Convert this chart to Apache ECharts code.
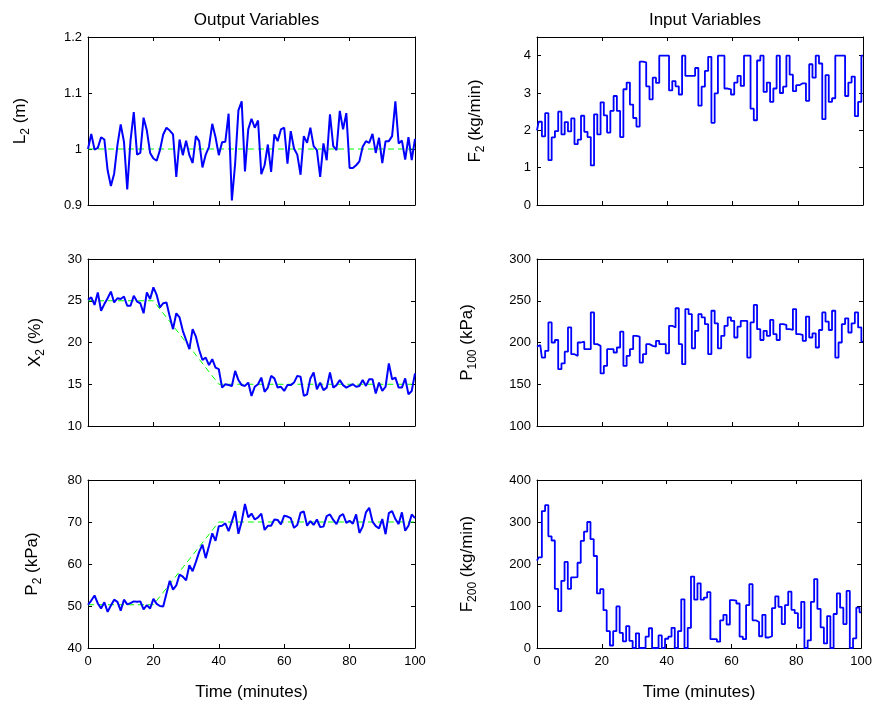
<!DOCTYPE html>
<html><head><meta charset="utf-8">
<script src="https://cdn.jsdelivr.net/npm/echarts@6/dist/echarts.min.js"></script>
<style>html,body{margin:0;padding:0;background:#fff}#c{width:875px;height:704px}</style>
</head><body><div id="c"></div>
<script>
const FONT = "'Liberation Sans', Arial, Helvetica, sans-serif";

// Output variables (one sample per minute, t = 0..100)
const L2 = [1.000,1.027,0.999,1.002,1.021,1.017,0.962,0.934,0.956,1.007,1.044,1.013,0.928,1.015,1.066,0.990,0.993,1.056,1.033,0.993,0.983,0.979,0.998,1.026,1.038,1.033,1.026,0.950,1.017,0.989,1.015,0.989,0.975,1.023,1.014,0.967,0.990,1.004,1.045,1.021,0.989,1.012,1.013,1.063,0.908,0.974,1.069,1.085,0.960,1.035,1.054,1.038,1.051,0.955,0.971,1.008,0.959,1.026,1.014,1.035,1.038,0.974,1.032,1.001,0.990,0.954,1.023,1.011,1.038,1.005,0.998,0.950,1.010,0.980,1.062,1.005,0.998,1.068,1.035,1.064,0.966,0.966,0.971,0.978,1.004,1.014,1.011,1.027,0.993,1.020,0.975,1.014,1.014,1.023,1.085,1.010,1.015,0.981,1.021,0.980,1.018];
const X2 = [25.1,25.4,24.5,26.0,23.8,24.6,25.3,26.1,24.8,25.3,25.2,25.5,24.4,24.4,25.6,24.9,24.7,23.5,26.0,25.2,26.6,25.7,24.2,24.7,24.8,23.1,21.6,23.5,23.0,21.4,20.3,19.2,21.6,20.7,19.1,17.9,18.2,17.3,18.0,17.0,16.8,14.6,15.0,14.9,14.8,16.6,15.5,14.9,14.8,15.2,13.6,14.7,15.0,15.8,14.1,14.6,16.0,15.7,14.6,14.7,14.2,14.9,14.9,15.2,16.0,15.9,13.6,13.8,15.7,16.4,14.4,15.2,14.3,14.6,16.4,14.6,14.9,15.5,14.9,14.6,14.8,15.0,14.7,14.8,15.5,14.8,15.6,15.6,13.9,15.2,14.2,14.7,17.5,15.6,15.8,14.6,14.6,15.7,13.8,14.2,16.3];
const P2 = [50.3,51.3,52.5,50.6,49.4,50.9,48.6,50.1,51.5,51.0,48.9,51.5,50.4,50.7,51.1,51.0,51.1,49.2,50.2,49.4,51.7,50.5,50.0,49.9,53.0,56.0,53.9,54.9,57.5,57.0,56.1,59.7,58.3,60.5,62.9,64.6,61.4,64.3,67.3,65.5,69.0,69.1,69.7,67.8,70.1,72.6,67.2,70.1,74.3,71.1,72.0,70.6,71.1,72.0,68.1,69.1,69.1,70.6,70.5,69.4,71.5,71.3,70.9,68.6,69.3,72.2,72.5,69.1,70.2,69.3,70.6,68.8,68.9,71.4,71.8,70.5,69.5,71.4,71.9,69.8,70.3,69.6,71.8,67.4,68.9,72.3,73.4,70.1,69.0,68.5,70.7,67.1,72.1,72.6,70.7,69.5,72.3,67.9,69.1,71.8,70.9];

// Setpoints (breakpoints)
const spTimes = [0, 20, 40, 100];
const spL2 = [1, 1, 1, 1];
const spX2 = [25, 25, 15, 15];
const spP2 = [50.3, 50.3, 70, 70];

// Input variables (held one minute each, t = 0..100)
const F2 = [2.0,2.23,1.84,2.46,1.2,1.81,1.98,2.5,1.89,2.22,1.97,2.32,1.63,1.75,2.39,1.96,1.82,1.06,2.43,1.89,2.75,2.40,1.94,2.52,2.92,2.52,1.82,3.10,3.28,2.69,2.33,2.10,3.84,3.82,3.18,2.83,3.41,3.27,4.0,4.0,4.0,3.07,3.32,3.18,2.96,4.0,3.46,3.46,3.46,3.67,2.66,3.17,3.59,3.97,2.2,2.99,4.0,4.0,3.12,3.1,2.96,3.28,3.46,3.19,4.0,4.0,2.58,2.27,3.87,4.0,3.03,3.28,2.76,3.12,4.0,3.0,3.17,4.0,3.49,3.05,3.21,3.26,3.26,2.79,3.77,3.41,4.0,3.79,2.30,3.48,2.76,2.86,4.0,4.0,4.0,2.92,3.28,3.44,2.38,2.76,4.0];
const P100 = [195,197,182,190,224,200,203,168,175,189,218,186,184,200,201,192,192,236,198,196,163,172,192,192,188,194,213,172,184,192,208,207,176,186,198,196,195,202,198,198,187,220,218,241,198,174,240,234,193,214,234,230,222,186,238,223,193,208,220,230,226,206,219,226,226,182,224,245,216,203,214,208,227,210,203,222,221,216,215,240,210,209,202,231,206,211,194,215,236,225,215,238,182,200,222,229,212,223,236,218,201];
const F200 = [208,216,326,340,266,256,141,88,160,205,141,168,169,203,255,277,300,259,219,130,140,90,40,6,40,99,36,16,52,17,0,35,0,0,27,47,0,0,30,0,22,27,48,0,40,116,0,48,170,115,154,115,120,133,21,21,15,66,79,56,114,113,106,27,21,102,152,66,62,28,79,25,28,95,123,98,57,102,134,91,83,48,110,0,18,110,164,93,49,11,76,0,81,130,96,57,136,0,23,96,85];

const xTickValues = {min: 0, max: 100, interval: 20};

const panels = [
  {grid: {left: 88, top: 37, width: 327, height: 168}, y: {min: 0.9, max: 1.2, interval: 0.1}, label: ['L', '2', ' (m)'], gap: 56, data: L2, sp: spL2, step: false, bottom: false, title: 'Output Variables'},
  {grid: {left: 88, top: 259, width: 327, height: 167}, y: {min: 10, max: 30, interval: 5}, label: ['X', '2', ' (%)'], gap: 41, data: X2, sp: spX2, step: false, bottom: false},
  {grid: {left: 88, top: 480, width: 327, height: 168}, y: {min: 40, max: 80, interval: 10}, label: ['P', '2', ' (kPa)'], gap: 44, data: P2, sp: spP2, step: false, bottom: true},
  {grid: {left: 537, top: 37, width: 326, height: 168}, y: {min: 0, max: 4.5, interval: 1}, label: ['F', '2', ' (kg/min)'], gap: 50, data: F2, sp: null, step: true, bottom: false, title: 'Input Variables'},
  {grid: {left: 537, top: 259, width: 326, height: 167}, y: {min: 100, max: 300, interval: 50}, label: ['P', '100', ' (kPa)'], gap: 58, data: P100, sp: null, step: true, bottom: false},
  {grid: {left: 537, top: 480, width: 326, height: 168}, y: {min: 0, max: 400, interval: 100}, label: ['F', '200', ' (kg/min)'], gap: 58, data: F200, sp: null, step: true, bottom: true}
];

const grid = [], xAxis = [], yAxis = [], series = [], title = [];
const axisLine = {show: true, onZero: false, lineStyle: {color: '#000', width: 1}};
const tick = {show: true, inside: true, length: 4, lineStyle: {color: '#000', width: 1}};

panels.forEach((p, i) => {
  grid.push(Object.assign({containLabel: false, show: false}, p.grid));
  // bottom x axis
  xAxis.push({
    type: 'value', gridIndex: i, position: 'bottom', min: xTickValues.min, max: xTickValues.max, interval: xTickValues.interval,
    axisLine, axisTick: tick, splitLine: {show: false},
    axisLabel: {show: p.bottom, color: '#000', fontSize: 13, fontFamily: FONT, margin: 7},
    name: p.bottom ? 'Time (minutes)' : '', nameLocation: 'middle', nameGap: 36,
    nameTextStyle: {color: '#000', fontSize: 17, fontFamily: FONT}
  });
  // top x axis (box)
  xAxis.push({
    type: 'value', gridIndex: i, position: 'top', min: xTickValues.min, max: xTickValues.max, interval: xTickValues.interval,
    axisLine, axisTick: tick, splitLine: {show: false}, axisLabel: {show: false}
  });
  const rem = p.y.max % p.y.interval;
  yAxis.push({
    type: 'value', gridIndex: i, position: 'left', min: p.y.min, max: p.y.max, interval: p.y.interval,
    axisLine, axisTick: tick, splitLine: {show: false},
    axisLabel: {color: '#000', fontSize: 13, fontFamily: FONT, margin: 6, showMaxLabel: rem < 1e-9 || Math.abs(rem - p.y.interval) < 1e-9},
    name: '{m|' + p.label[0] + '}{s|' + p.label[1] + '}{m|' + p.label[2] + '}',
    nameLocation: 'middle', nameRotate: 90, nameGap: p.gap,
    nameTextStyle: {
      color: '#000', fontFamily: FONT,
      rich: {
        m: {fontSize: 17, fontFamily: FONT, color: '#000', lineHeight: 24, verticalAlign: 'middle'},
        s: {fontSize: 12, fontFamily: FONT, color: '#000', lineHeight: 8, verticalAlign: 'bottom'}
      }
    }
  });
  yAxis.push({
    type: 'value', gridIndex: i, position: 'right', min: p.y.min, max: p.y.max, interval: p.y.interval,
    axisLine, axisTick: tick, splitLine: {show: false}, axisLabel: {show: false}
  });
  if (p.sp) {
    series.push({
      type: 'line', xAxisIndex: 2 * i, yAxisIndex: 2 * i, symbol: 'none', silent: true,
      data: spTimes.map((t, k) => [t, p.sp[k]]),
      lineStyle: {color: '#00ff00', width: 1, type: [6, 4]}, z: 1
    });
  }
  series.push({
    type: 'line', xAxisIndex: 2 * i, yAxisIndex: 2 * i, symbol: 'none', silent: true,
    step: p.step ? 'middle' : false,
    data: p.data.map((v, k) => [k, v]),
    lineStyle: {color: '#0000ff', width: p.step ? 1.8 : 2}, z: 2
  });
  if (p.title) {
    title.push({
      text: p.title, left: p.grid.left + p.grid.width / 2, top: 7, textAlign: 'center',
      textStyle: {color: '#000', fontSize: 17, fontWeight: 'normal', fontFamily: FONT}
    });
  }
});

const chart = echarts.init(document.getElementById('c'), null, {renderer: 'canvas'});
chart.setOption({backgroundColor: '#fff', animation: false, title, grid, xAxis, yAxis, series});
</script>
</body></html>
